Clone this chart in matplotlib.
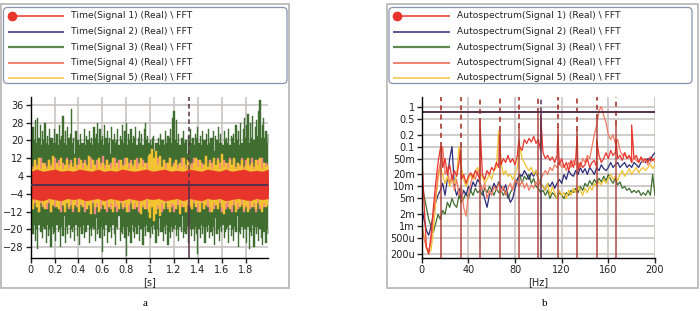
import numpy as np
import matplotlib
matplotlib.use('Agg')
import matplotlib.pyplot as plt
from matplotlib.patches import FancyBboxPatch, Rectangle

# ---- legend labels / colours ----
time_labels = ['Time(Signal 1) (Real) \\ FFT', 'Time(Signal 2) (Real) \\ FFT',
               'Time(Signal 3) (Real) \\ FFT', 'Time(Signal 4) (Real) \\ FFT',
               'Time(Signal 5) (Real) \\ FFT']
spec_labels = ['Autospectrum(Signal 1) (Real) \\ FFT', 'Autospectrum(Signal 2) (Real) \\ FFT',
               'Autospectrum(Signal 3) (Real) \\ FFT', 'Autospectrum(Signal 4) (Real) \\ FFT',
               'Autospectrum(Signal 5) (Real) \\ FFT']
colors = ['#e8352c', '#2c2c78', '#3f6e30', '#f07a62', '#f2c230']
legend_colors = ['#e8352c', '#2c2c78', '#5e8a52', '#f0604c', '#f2c640']

# ---- time signals: positive / negative peaks ----
green_hi = [22, 18, 26, 20, 29, 19, 30, 21, 27, 18, 24, 20, 28, 19, 22, 18, 25, 21, 21, 19,
            25, 19, 23, 18, 27, 20, 22, 31, 19, 24, 18, 26, 21, 23, 34, 19, 21, 14, 24, 20,
            20, 18, 23, 19, 19, 25, 18, 22, 20, 24, 19, 21, 18, 26, 21, 23, 28, 19, 25, 20,
            22, 18, 27, 21, 24, 19, 21, 14, 26, 20, 23, 19, 20, 25, 18, 22, 20, 27, 19, 24,
            28, 18, 23, 20, 25, 19, 22, 21, 26, 18, 21, 24, 19, 23, 18, 25, 28, 20, 22, 19,
            20, 18, 21, 22, 15, 19, 19, 21, 18, 23, 20, 20, 18, 24, 19, 22, 21, 25, 19, 30,
            33, 20, 29, 19, 23, 18, 21, 21, 24, 19, 20, 14, 22, 20, 25, 19, 21, 18, 23, 21,
            26, 19, 22, 18, 24, 20, 20, 23, 18, 25, 19, 21, 21, 24, 15, 22, 20, 26, 19, 23,
            19, 18, 24, 20, 21, 19, 25, 18, 22, 21, 23, 19, 27, 20, 24, 18, 28, 19, 25, 30,
            21, 27, 32, 19, 28, 21, 31, 20, 26, 29, 22, 33, 38, 21, 27, 30, 21, 24, 19, 23]
green_lo = [-27, -19, -22, -18, -25, -20, -29, -18, -21, -21, -24, -19, -20, -26, -18, -23, -20, -28, -19, -22,
            -21, -25, -18, -21, -20, -28, -19, -23, -14, -26, -19, -22, -18, -24, -20, -21, -19, -25, -18, -23,
            -19, -27, -19, -22, -18, -24, -21, -21, -18, -26, -20, -23, -19, -20, -25, -15, -22, -20, -24, -19,
            -30, -20, -23, -18, -26, -21, -21, -19, -24, -18, -22, -27, -19, -20, -14, -25, -21, -22, -19, -24,
            -32, -19, -23, -21, -26, -18, -21, -24, -19, -22, -18, -25, -20, -20, -27, -19, -23, -18, -21, -21,
            -24, -19, -22, -18, -20, -26, -20, -23, -15, -21, -21, -25, -19, -22, -18, -27, -21, -24, -19, -21,
            -20, -18, -23, -20, -25, -19, -21, -14, -24, -21, -22, -19, -26, -18, -20, -23, -20, -25, -19, -22,
            -31, -20, -24, -18, -22, -19, -26, -19, -21, -18, -24, -21, -23, -19, -27, -15, -22, -20, -25, -19,
            -21, -18, -24, -21, -20, -19, -26, -18, -23, -20, -25, -19, -21, -14, -28, -21, -22, -19, -24, -20,
            -20, -26, -19, -29, -21, -23, -18, -28, -19, -22, -19, -25, -20, -24, -27, -21, -21, -26, -20, -22]
pink_hi = [10, 8, 11, 9, 8, 12, 9, 10, 8, 11, 9, 10, 12, 8, 11, 9, 10, 8, 12, 9,
           11, 8, 10, 9, 12, 8, 10, 11, 9, 8, 12, 10, 9, 11, 8, 10, 13, 9, 11, 8,
           10, 9, 12, 8, 11, 10, 9, 12, 8, 10, 11, 9, 8, 12, 10, 9, 11, 8, 10, 12,
           9, 11, 8, 10, 12, 9, 8, 11, 10, 9, 12, 8, 10, 11, 9, 8, 12, 10, 9, 11,
           8, 10, 12, 9, 11, 8, 10, 9, 12, 8, 11, 10, 9, 8, 12, 10, 9, 11, 8, 10,
           12, 9, 11, 8, 10, 9, 12, 8, 11, 10, 9, 12, 8, 10, 11, 9, 12, 8, 10, 9]
pink_lo = [-9, -11, -8, -10, -12, -8, -10, -9, -11, -8, -12, -9, -10, -8, -11, -12, -9, -10, -8, -11,
           -9, -12, -8, -10, -11, -9, -8, -12, -10, -9, -11, -8, -13, -10, -9, -11, -8, -10, -12, -9,
           -11, -8, -10, -12, -9, -8, -11, -10, -9, -12, -8, -10, -11, -9, -12, -8, -10, -9, -11, -8,
           -12, -9, -10, -8, -11, -9, -12, -10, -8, -11, -9, -10, -12, -8, -9, -11, -10, -8, -12, -9,
           -10, -11, -8, -9, -12, -10, -8, -11, -9, -10, -12, -8, -11, -9, -10, -8, -12, -9, -11, -10,
           -8, -12, -9, -10, -11, -8, -9, -12, -10, -8, -11, -9, -10, -12, -8, -11, -9, -10, -8, -9]
yellow_hi = [9, 7, 11, 8, 12, 7, 10, 9, 7, 11, 8, 13, 7, 10, 8, 12, 7, 9, 11, 7,
             10, 8, 12, 7, 9, 11, 7, 10, 8, 13, 7, 11, 9, 7, 12, 8, 10, 7, 11, 9,
             7, 12, 8, 10, 7, 11, 8, 9, 12, 7, 10, 8, 11, 7, 9, 12, 8, 10, 7, 13,
             14, 16, 12, 15, 9, 13, 8, 11, 7, 10, 12, 8, 9, 11, 7, 10, 8, 12, 7, 11,
             9, 7, 10, 12, 8, 11, 7, 9, 13, 8, 10, 7, 12, 9, 11, 7, 14, 8, 10, 7,
             11, 9, 12, 7, 10, 8, 11, 7, 9, 12, 8, 10, 7, 11, 9, 12, 7, 10, 8, 9]
yellow_lo = [-8, -11, -7, -10, -12, -7, -9, -11, -8, -7, -12, -9, -7, -10, -11, -7, -9, -12, -8, -10,
             -7, -11, -9, -7, -12, -8, -10, -7, -11, -9, -13, -7, -10, -8, -12, -7, -9, -11, -7, -10,
             -8, -12, -7, -9, -11, -7, -10, -8, -12, -9, -7, -11, -8, -10, -7, -13, -9, -11, -7, -12,
             -15, -10, -16, -13, -9, -14, -8, -11, -7, -10, -12, -8, -9, -11, -7, -13, -8, -10, -12, -7,
             -9, -11, -7, -10, -8, -12, -7, -11, -9, -7, -10, -12, -8, -9, -11, -7, -10, -13, -8, -7,
             -11, -9, -7, -12, -8, -10, -7, -11, -9, -12, -7, -10, -8, -11, -7, -9, -12, -8, -10, -9]
navy_hi = [3, 2, 3, 4, 2, 3, 3, 2, 4, 3, 2, 3, 3, 4, 2, 3, 2, 3, 4, 3]
navy_lo = [-3, -2, -4, -3, -2, -3, -4, -2, -3, -3, -2, -4, -3, -2, -3, -4, -3, -2, -3, -3]
red_hi = [6, 7, 6, 6.5, 7, 6, 6.5, 6, 7, 6.5, 6, 7, 6, 6.5, 6, 7, 6.5, 6, 6.5, 7,
          6, 6.5, 7, 6, 6.5, 6, 7, 6.5, 6, 7, 6.5, 6, 7, 6, 6.5, 7, 6, 6.5, 6, 7]
red_lo = [-6, -6.5, -7, -6, -6.5, -7, -6, -6.5, -6, -7, -6.5, -6, -7, -6, -6.5, -7, -6, -6.5, -7, -6,
          -6.5, -6, -7, -6.5, -6, -7, -6, -6.5, -7, -6, -6.5, -6, -7, -6.5, -6, -6.5, -7, -6, -6.5, -6]
t_end = 1.99
cursor_t = 1.324
cursor_v = 0.0

# ---- autospectra, 0..200 Hz every 2 Hz ----
freq = np.arange(0, 201, 2)
spec1 = [0.08, 0.004, 0.0003, 0.0002, 0.0006, 0.003, 0.012, 0.04, 0.09, 0.03,
         0.05, 0.02, 0.035, 0.015, 0.025, 0.018, 0.04, 0.015, 0.02, 0.012,
         0.018, 0.022, 0.017, 0.025, 0.02, 0.015, 0.02, 0.015, 0.025, 0.02,
         0.03, 0.025, 0.04, 0.03, 0.035, 0.05, 0.04, 0.06, 0.04, 0.05,
         0.035, 0.06, 0.1, 0.08, 0.15, 0.12, 0.16, 0.13, 0.18, 0.12,
         0.15, 0.08, 0.07, 0.05, 0.06, 0.045, 0.055, 0.04, 0.06, 0.035,
         0.05, 0.03, 0.04, 0.025, 0.045, 0.03, 0.05, 0.025, 0.04, 0.03,
         0.035, 0.05, 0.03, 0.04, 0.045, 0.03, 0.06, 0.04, 0.05, 0.07,
         0.05, 0.08, 0.06, 0.07, 0.05, 0.06, 0.045, 0.07, 0.05, 0.06,
         0.04, 0.05, 0.06, 0.04, 0.055, 0.045, 0.05, 0.04, 0.055, 0.045, 0.05]
spec1_peak_hz = [16.7, 33.3, 50.0, 66.7, 83.3, 102.0, 116.7, 133.3, 150.0, 166.7, 180.0]
spec1_peak_val = [0.1, 0.08, 0.4, 0.2, 0.15, 0.6, 0.2, 0.18, 0.15, 0.15, 0.35]
spec2 = [0.003, 0.0015, 0.0008, 0.0006, 0.001, 0.002, 0.004, 0.006, 0.008, 0.012,
         0.006, 0.015, 0.05, 0.1, 0.01, 0.006, 0.009, 0.005, 0.008, 0.006,
         0.01, 0.008, 0.013, 0.01, 0.015, 0.012, 0.008, 0.005, 0.003, 0.006,
         0.008, 0.012, 0.009, 0.013, 0.01, 0.008, 0.011, 0.006, 0.004, 0.005,
         0.009, 0.015, 0.02, 0.018, 0.025, 0.02, 0.015, 0.022, 0.018, 0.025,
         0.015, 0.012, 0.01, 0.008, 0.012, 0.01, 0.013, 0.009, 0.012, 0.015,
         0.012, 0.02, 0.015, 0.025, 0.02, 0.018, 0.025, 0.02, 0.03, 0.022,
         0.028, 0.02, 0.03, 0.025, 0.02, 0.03, 0.025, 0.035, 0.028, 0.025,
         0.03, 0.04, 0.03, 0.035, 0.04, 0.03, 0.035, 0.04, 0.03, 0.035,
         0.03, 0.04, 0.035, 0.03, 0.04, 0.045, 0.04, 0.05, 0.045, 0.06, 0.07]
spec3 = [0.015, 0.006, 0.003, 0.0015, 0.001, 0.0007, 0.0012, 0.002, 0.0015, 0.0025,
         0.002, 0.004, 0.003, 0.005, 0.0035, 0.003, 0.006, 0.004, 0.005, 0.007,
         0.005, 0.008, 0.006, 0.009, 0.007, 0.008, 0.006, 0.009, 0.007, 0.01,
         0.008, 0.006, 0.009, 0.007, 0.008, 0.006, 0.008, 0.005, 0.007, 0.009,
         0.012, 0.015, 0.02, 0.012, 0.018, 0.015, 0.02, 0.012, 0.016, 0.01,
         0.009, 0.007, 0.008, 0.006, 0.008, 0.005, 0.007, 0.006, 0.005, 0.007,
         0.006, 0.005, 0.007, 0.006, 0.008, 0.007, 0.009, 0.007, 0.01, 0.008,
         0.012, 0.01, 0.014, 0.011, 0.015, 0.012, 0.016, 0.013, 0.018, 0.014,
         0.02, 0.015, 0.012, 0.016, 0.011, 0.013, 0.009, 0.01, 0.008, 0.009,
         0.007, 0.008, 0.007, 0.008, 0.006, 0.007, 0.006, 0.008, 0.006, 0.02, 0.006]
spec4 = [0.001, 0.0005, 0.0003, 0.00025, 0.0004, 0.002, 0.006, 0.02, 0.04, 0.1,
         0.02, 0.03, 0.012, 0.02, 0.008, 0.015, 0.006, 0.01, 0.003, 0.0018,
         0.006, 0.012, 0.02, 0.015, 0.025, 0.012, 0.008, 0.012, 0.005, 0.008,
         0.006, 0.01, 0.008, 0.012, 0.007, 0.01, 0.006, 0.009, 0.012, 0.008,
         0.015, 0.012, 0.01, 0.014, 0.009, 0.012, 0.008, 0.011, 0.009, 0.013,
         0.01, 0.015, 0.02, 0.025, 0.02, 0.03, 0.025, 0.035, 0.03, 0.04,
         0.03, 0.035, 0.025, 0.04, 0.03, 0.045, 0.035, 0.04, 0.03, 0.05,
         0.04, 0.06, 0.05, 0.1, 0.2, 0.35, 0.8, 1.0, 0.6, 0.4,
         0.2, 0.15, 0.2, 0.12, 0.15, 0.08, 0.06, 0.07, 0.05, 0.06,
         0.04, 0.05, 0.045, 0.04, 0.05, 0.04, 0.045, 0.035, 0.04, 0.05, 0.04]
spec5 = [0.0012, 0.0006, 0.0003, 0.00022, 0.00025, 0.0008, 0.004, 0.015, 0.03, 0.02,
         0.012, 0.018, 0.01, 0.015, 0.012, 0.02, 0.1, 0.03, 0.015, 0.01,
         0.015, 0.02, 0.015, 0.025, 0.03, 0.02, 0.018, 0.012, 0.015, 0.02,
         0.015, 0.025, 0.03, 0.25, 0.04, 0.02, 0.025, 0.018, 0.02, 0.015,
         0.02, 0.03, 0.1, 0.05, 0.04, 0.03, 0.025, 0.03, 0.02, 0.025,
         0.015, 0.012, 0.01, 0.008, 0.012, 0.006, 0.01, 0.007, 0.005, 0.008,
         0.006, 0.007, 0.005, 0.008, 0.006, 0.009, 0.007, 0.01, 0.008, 0.006,
         0.009, 0.007, 0.01, 0.008, 0.012, 0.01, 0.013, 0.011, 0.015, 0.012,
         0.016, 0.02, 0.015, 0.018, 0.014, 0.02, 0.025, 0.018, 0.022, 0.028,
         0.02, 0.025, 0.03, 0.022, 0.027, 0.03, 0.025, 0.03, 0.035, 0.028, 0.035]
harm_hz = [16.7, 33.3, 50.0, 66.7, 83.3, 100.0, 116.7, 133.3, 150.0, 166.7]
harm_split = [0.1, 0.1, 0.4, 0.25, 0.3, 0.7, 0.3, 0.25, 0.5, 0.35]
cursor_hz = 102.5
cursor_level = 0.74

spec_ticks = [0.0002, 0.0005, 0.001, 0.002, 0.005, 0.01, 0.02, 0.05, 0.1, 0.2, 0.5, 1]
spec_ticklabels = ['200u', '500u', '1m', '2m', '5m', '10m', '20m', '50m', '0.1', '0.2', '0.5', '1']
time_ticks = [-28, -20, -12, -4, 4, 12, 20, 28, 36]
sec_ticks = [0, 0.2, 0.4, 0.6, 0.8, 1, 1.2, 1.4, 1.6, 1.8]
sec_ticklabels = ['0', '0.2', '0.4', '0.6', '0.8', '1', '1.2', '1.4', '1.6', '1.8']

W, H = 700, 311
GRID = '#c9c3c3'
CURSOR = '#56304a'
HARM = '#a8362e'
TICK_FS = 7

plt.rcParams['font.family'] = 'DejaVu Sans'
fig = plt.figure(figsize=(W / 100, H / 100), dpi=100)

# background layer in pixel coordinates: panel frames, legends, captions
bg = fig.add_axes([0, 0, 1, 1])
bg.set_xlim(0, W)
bg.set_ylim(H, 0)
bg.axis('off')


def panel_frame(x0, x1, y0, y1):
    bg.add_patch(Rectangle((x0, y0), x1 - x0, y1 - y0, fill=False,
                           ec='#b4b4b4', lw=1.2))


def draw_legend(x0, x1, y0, y1, labels, text_x):
    bg.add_patch(FancyBboxPatch((x0, y0), x1 - x0, y1 - y0,
                                boxstyle='round,pad=0,rounding_size=4',
                                fc='white', ec='#8a94b0', lw=0.9))
    rows = [16, 31.5, 47, 62.5, 78]
    for i, lab in enumerate(labels):
        y = rows[i]
        lw = 1.6 if i == 2 else 1.1
        bg.plot([x0 + 4, text_x - 7], [y, y], color=legend_colors[i], lw=lw,
                solid_capstyle='butt')
        if i == 0:
            bg.plot([x0 + 8], [y], marker='o', ms=6, color=legend_colors[0], mec=legend_colors[0])
        bg.text(text_x, y, lab, fontsize=6.6, va='center', ha='left', color='#222222')


panel_frame(1, 289, 4, 288)
panel_frame(387, 698, 4, 288)
draw_legend(3.5, 287, 7.5, 83.5, time_labels, 71)
draw_legend(389, 692, 7.5, 83.5, spec_labels, 457)
bg.text(145, 303, 'a', fontsize=8, family='Liberation Serif', ha='center', va='center')
bg.text(545, 303, 'b', fontsize=8, family='Liberation Serif', ha='center', va='center')


def style_axes(ax):
    for s in ['top', 'right']:
        ax.spines[s].set_visible(False)
    for s in ['left', 'bottom']:
        ax.spines[s].set_linewidth(1.0)
        ax.spines[s].set_color('black')
    ax.tick_params(length=3.5, width=1.0, labelsize=TICK_FS, pad=1.5, colors='#222222')
    ax.grid(True, color=GRID, lw=1.2)
    ax.set_axisbelow(True)


# ---- a: time signals ----
ax1 = fig.add_axes([30.7 / W, 1 - 257.7 / H, (268.3 - 30.7) / W, 161 / H])
style_axes(ax1)
time_series = [(green_hi, green_lo, colors[2], 'mid'), (pink_hi, pink_lo, '#f08a82', 'mid'),
               (yellow_hi, yellow_lo, colors[4], 'mid'), (navy_hi, navy_lo, colors[1], None),
               (red_hi, red_lo, colors[0], None)]
for k, (hi, lo, c, st) in enumerate(time_series):
    t = np.linspace(0, t_end, len(hi))
    ax1.fill_between(t, lo, hi, step=st, color=c, lw=0.3, ec=c, zorder=2 + k * 0.1)
ax1.axhline(cursor_v, color=CURSOR, lw=1.4, zorder=3)
ax1.plot([cursor_t, cursor_t], [cursor_v, 40], color=CURSOR, lw=1.1, dashes=(3, 2), zorder=3)
ax1.plot([cursor_t, cursor_t], [-33, cursor_v], color=CURSOR, lw=1.1, zorder=3)
ax1.set_xlim(0, t_end)
ax1.set_ylim(-32.7, 39.6)
ax1.set_yticks(time_ticks)
ax1.set_xticks(sec_ticks)
ax1.set_xticklabels(sec_ticklabels)
ax1.set_xlabel('[s]', fontsize=TICK_FS, labelpad=2, color='#222222')

# ---- b: autospectra ----
ax2 = fig.add_axes([421.7 / W, 1 - 257.7 / H, (655 - 421.7) / W, 161 / H])
style_axes(ax2)
ax2.set_yscale('log')
f1 = np.concatenate([freq, spec1_peak_hz])
v1 = np.concatenate([spec1, spec1_peak_val])
order = np.argsort(f1, kind='stable')
spectra = [(freq, spec3, colors[2]), (freq, spec2, colors[1]), (freq, spec5, colors[4]),
           (freq, spec4, colors[3]), (f1[order], v1[order], colors[0])]
for f, v, c in spectra:
    ax2.plot(f, v, color=c, lw=0.9)
for hz, split in zip(harm_hz, harm_split):
    ax2.plot([hz, hz], [split, 2], color=HARM, lw=1.2, dashes=(3, 2.5))
    ax2.plot([hz, hz], [1e-4, split], color=HARM, lw=1.1, alpha=0.9)
ax2.axhline(cursor_level, color=CURSOR, lw=1.4)
ax2.plot([cursor_hz, cursor_hz], [cursor_level, 2], color=CURSOR, lw=1.1, dashes=(3, 2))
ax2.plot([cursor_hz, cursor_hz], [1e-4, cursor_level], color=CURSOR, lw=1.1)
ax2.set_xlim(0, 200)
ax2.set_ylim(1.64e-4, 1.78)
ax2.set_yticks(spec_ticks)
ax2.set_yticklabels(spec_ticklabels)
ax2.minorticks_off()
ax2.set_xticks([0, 40, 80, 120, 160, 200])
ax2.set_xlabel('[Hz]', fontsize=TICK_FS, labelpad=2, color='#222222')

fig.savefig('out.png', dpi=100)
